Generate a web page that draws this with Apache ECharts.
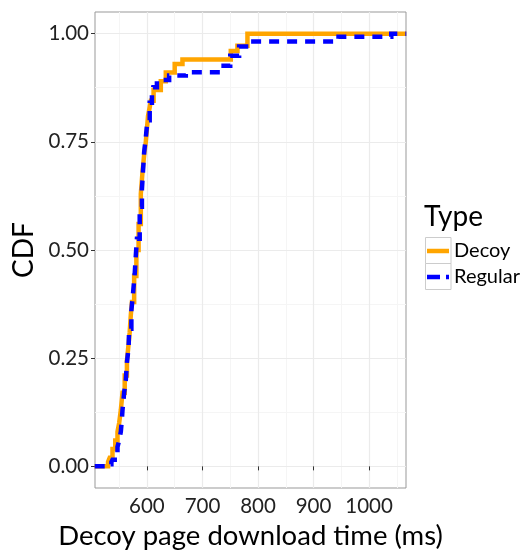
<!DOCTYPE html>
<html>
<head>
<meta charset="utf-8">
<script src="https://cdn.jsdelivr.net/npm/echarts@6/dist/echarts.min.js"></script>
<style>html,body{margin:0;padding:0;background:#fff}#c{width:532px;height:550px}</style>
</head>
<body>
<div id="c"></div>
<script>
// ECDF step points: [download time (ms), cumulative fraction]
var decoy = [
  [506, 0], [530, 0.01], [533, 0.02], [538, 0.04], [543, 0.06], [547, 0.08], [550, 0.10],
  [553, 0.13], [556, 0.17], [560, 0.21], [564, 0.245], [566, 0.27], [569, 0.31], [571, 0.35],
  [573, 0.38], [577, 0.44], [581, 0.50], [585, 0.56], [589, 0.63], [592, 0.68], [595, 0.72],
  [598, 0.75], [600, 0.78], [602, 0.81], [605, 0.83], [607, 0.845], [612, 0.87], [625, 0.89],
  [634, 0.91], [650, 0.93], [664, 0.94], [751, 0.96], [763, 0.972], [781, 1.0], [1067, 1.0]
];
var regular = [
  [506, 0], [532, 0.005], [536, 0.01], [538, 0.015], [542, 0.03], [547, 0.045], [550, 0.06],
  [553, 0.08], [555, 0.11], [556, 0.13], [559, 0.17], [562, 0.20], [564, 0.24], [567, 0.275],
  [568, 0.318], [572, 0.36], [575, 0.40], [578, 0.445], [580, 0.487], [582, 0.526], [587, 0.60],
  [591, 0.64], [593, 0.684], [595, 0.726], [598, 0.76], [601, 0.80], [605, 0.84], [609, 0.868],
  [611, 0.876], [618, 0.893], [640, 0.903], [670, 0.911], [733, 0.926], [750, 0.949],
  [766, 0.97], [785, 0.982], [945, 0.993], [1040, 1.0], [1067, 1.0]
];
var xTicks = [600, 700, 800, 900, 1000];
var xMinor = [550, 650, 750, 850, 950, 1050];
var yTicks = [0, 0.25, 0.5, 0.75, 1.0];
var yMinor = [0.125, 0.375, 0.625, 0.875];
var xRange = [506.5, 1066.5];
var yRange = [-0.05, 1.05];

var font = 'Lato';
var orange = '#FFA500', blue = '#0000FF';
var chart = echarts.init(document.getElementById('c'), null, {renderer: 'canvas'});
var gridPos = {left: 95, right: 126, top: 12, bottom: 62};
chart.setOption({
  animation: false,
  backgroundColor: '#fff',
  textStyle: {fontFamily: font},
  grid: Object.assign({show: true, borderColor: '#999', borderWidth: 1, backgroundColor: '#fff',
    containLabel: false, outerBoundsMode: 'none'}, gridPos),
  xAxis: [{
    type: 'value', min: xRange[0], max: xRange[1],
    name: 'Decoy page download time (ms)', nameLocation: 'middle', nameGap: 32,
    nameTextStyle: {fontSize: 27.5, color: '#000', fontFamily: font},
    axisLine: {show: false},
    axisTick: {show: true, length: 4, customValues: xTicks, lineStyle: {color: '#333', width: 1}},
    axisLabel: {customValues: xTicks, fontSize: 20.5, color: '#222', margin: 8, fontFamily: font,
      formatter: function (v) { return String(v); }},
    splitLine: {show: true, lineStyle: {color: '#ebebeb', width: 1.2}},
    z: 2
  }, {
    type: 'value', min: xRange[0], max: xRange[1],
    axisLine: {show: false}, axisLabel: {show: false},
    axisTick: {show: false, customValues: xMinor},
    splitLine: {show: true, lineStyle: {color: '#f5f5f5', width: 1}},
    z: 1
  }],
  yAxis: [{
    type: 'value', min: yRange[0], max: yRange[1],
    name: 'CDF', nameLocation: 'middle', nameGap: 55, nameRotate: 90,
    nameTextStyle: {fontSize: 28, color: '#000', fontFamily: font},
    axisLine: {show: false},
    axisTick: {show: true, length: 4, customValues: yTicks, lineStyle: {color: '#333', width: 1}},
    axisLabel: {customValues: yTicks, fontSize: 20.5, color: '#222', margin: 6, fontFamily: font,
      formatter: function (v) { return v.toFixed(2); }},
    splitLine: {show: true, lineStyle: {color: '#ebebeb', width: 1.2}},
    z: 2
  }, {
    type: 'value', min: yRange[0], max: yRange[1],
    axisLine: {show: false}, axisLabel: {show: false},
    axisTick: {show: false, customValues: yMinor},
    splitLine: {show: true, lineStyle: {color: '#f5f5f5', width: 1}},
    z: 1
  }],
  legend: {
    orient: 'vertical', left: 427, top: 238, itemGap: 0, itemWidth: 22, itemHeight: 26,
    padding: 0, icon: 'rect',
    itemStyle: {opacity: 0}, lineStyle: {opacity: 0},
    textStyle: {fontSize: 20, color: '#000', fontFamily: font, lineHeight: 26, padding: [0, 0, 0, 0]},
    data: ['Decoy', 'Regular']
  },
  graphic: [
    {type: 'rect', left: 425, top: 237, shape: {width: 25.5, height: 26}, style: {fill: '#fff', stroke: '#cccccc', lineWidth: 1}, z: -1},
    {type: 'rect', left: 425, top: 263, shape: {width: 25.5, height: 26}, style: {fill: '#fff', stroke: '#cccccc', lineWidth: 1}, z: -1},
    {type: 'line', shape: {x1: 427, y1: 251, x2: 449, y2: 251}, style: {stroke: orange, lineWidth: 4.5}},
    {type: 'line', shape: {x1: 427, y1: 277, x2: 449, y2: 277}, style: {stroke: blue, lineWidth: 4.5, lineDash: [13, 6]}},
    {type: 'text', left: 424, top: 203, style: {text: 'Type', fontSize: 28, fill: '#000', fontFamily: font}}
  ],
  series: [{
    name: 'Decoy', type: 'line', step: 'end', data: decoy, showSymbol: false, symbol: 'none',
    xAxisIndex: 0, yAxisIndex: 0, clip: true,
    itemStyle: {color: orange},
    lineStyle: {color: orange, width: 4.5, cap: 'butt', join: 'miter'}, z: 3
  }, {
    name: 'Regular', type: 'line', step: 'end', data: regular, showSymbol: false, symbol: 'none',
    xAxisIndex: 0, yAxisIndex: 0, clip: true,
    itemStyle: {color: blue},
    lineStyle: {color: blue, width: 4.5, type: [10, 8], cap: 'butt', join: 'miter'}, z: 4
  }]
});
</script>
</body>
</html>
